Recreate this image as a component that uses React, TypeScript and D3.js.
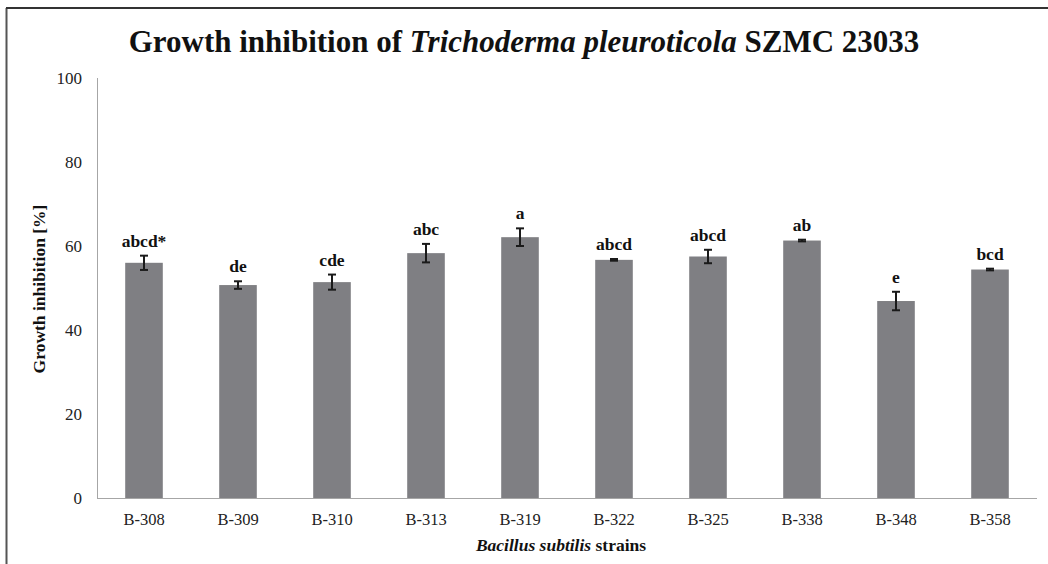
import React from 'react';
import * as d3 from 'd3';

const strains = ['B-308', 'B-309', 'B-310', 'B-313', 'B-319', 'B-322', 'B-325', 'B-338', 'B-348', 'B-358'];
const inhibition = [56.0, 50.7, 51.4, 58.3, 62.1, 56.7, 57.5, 61.3, 46.9, 54.4];
const errors = [1.7, 0.9, 1.8, 2.2, 2.1, 0.2, 1.6, 0.2, 2.2, 0.2];
const groups = ['abcd*', 'de', 'cde', 'abc', 'a', 'abcd', 'abcd', 'ab', 'e', 'bcd'];
const yTicks = [0, 20, 40, 60, 80, 100];

const W = 1048;
const H = 564;
const margin = { left: 97, right: 11, top: 78, bottom: 66 };
const font = 'Liberation Serif, DejaVu Serif, serif';

const App = () => {
    const x = d3.scaleBand()
        .domain(strains)
        .range([margin.left, W - margin.right])
        .paddingInner(0.6)
        .paddingOuter(0.3);
    const y = d3.scaleLinear().domain([0, 100]).range([H - margin.bottom, margin.top]);
    const bw = x.bandwidth();

    return (
        <svg width={W} height={H} style={{ position: 'absolute', left: 0, top: 0, background: '#fff', fontFamily: font }}>
            {/* frame */}
            <line x1={6.5} x2={6.5} y1={8} y2={H} stroke="#555" strokeWidth={2} />
            <line x1={6} x2={W} y1={8} y2={8} stroke="#333" strokeWidth={2} />

            <text x={524} y={52} textAnchor="middle" fontSize={31} fontWeight={700} fill="#111" style={{ fontFamily: font }}>
                Growth inhibition of <tspan fontStyle="italic">Trichoderma pleuroticola</tspan> SZMC 23033
            </text>

            {/* axes */}
            <line x1={margin.left + 0.5} x2={margin.left + 0.5} y1={y(100)} y2={y(0)} stroke="#a6a6a6" strokeWidth={1} />
            <line x1={margin.left} x2={W - margin.right} y1={y(0) + 0.5} y2={y(0) + 0.5} stroke="#a6a6a6" strokeWidth={1} />
            {yTicks.map(t => (
                <text key={t} x={82} y={y(t) + 6} textAnchor="end" fontSize={17} fill="#222" style={{ fontFamily: font }}>{t}</text>
            ))}
            {strains.map(s => (
                <text key={s} x={(x(s) as number) + bw / 2} y={525} textAnchor="middle" fontSize={16.5} fill="#222" style={{ fontFamily: font }}>{s}</text>
            ))}

            {/* bars */}
            {strains.map((s, i) => {
                const cx = (x(s) as number) + bw / 2;
                const top = y(inhibition[i] + errors[i]);
                const bot = y(inhibition[i] - errors[i]);
                return (
                    <g key={s}>
                        <rect x={x(s)} y={y(inhibition[i])} width={bw} height={y(0) - y(inhibition[i])} fill="#7f7f83" />
                        <g stroke="#1a1a1a" strokeWidth={2}>
                            <line x1={cx} x2={cx} y1={top} y2={bot} />
                            <line x1={cx - 4} x2={cx + 4} y1={top} y2={top} />
                            <line x1={cx - 4} x2={cx + 4} y1={bot} y2={bot} />
                        </g>
                        <text x={cx} y={top - 9} textAnchor="middle" fontSize={17.5} fontWeight={700} fill="#111" style={{ fontFamily: font }}>{groups[i]}</text>
                    </g>
                );
            })}

            <text transform={`translate(45, 289) rotate(-90)`} textAnchor="middle" fontSize={17.5} fontWeight={700} fill="#111" style={{ fontFamily: font }}>
                Growth inhibition [%]
            </text>
            <text x={561} y={551} textAnchor="middle" fontSize={17.5} fontWeight={700} fill="#111" style={{ fontFamily: font }}>
                <tspan fontStyle="italic">Bacillus subtilis</tspan> strains
            </text>
        </svg>
    );
};

export default App;
